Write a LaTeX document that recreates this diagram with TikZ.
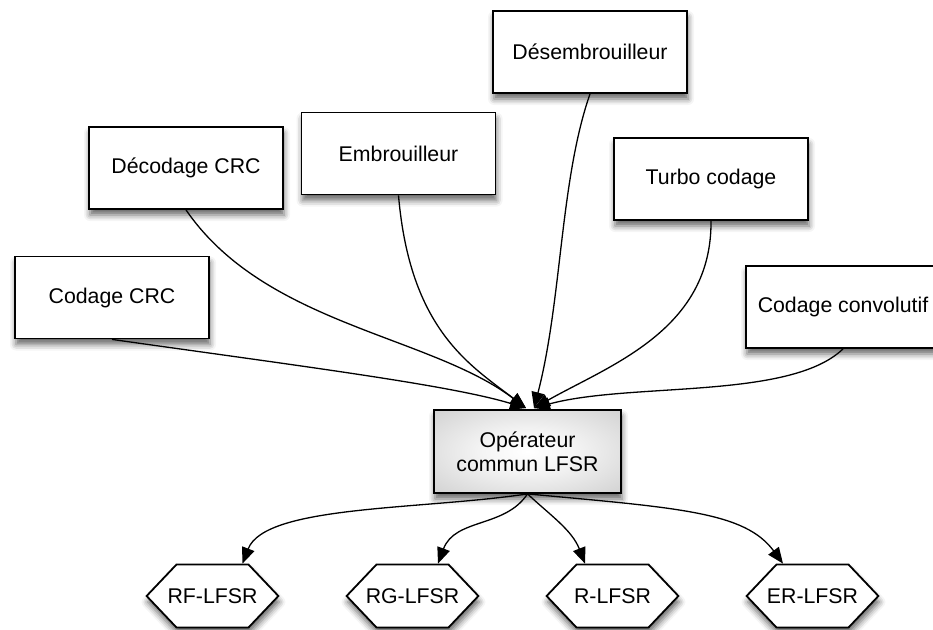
\documentclass[tikz,border=0pt]{standalone}
\usepackage{fontspec}
\setmainfont{Liberation Sans}
\usetikzlibrary{shapes.symbols,arrows.meta,shadows.blur}
\pgfdeclareradialshading{opshade}{\pgfpoint{0bp}{0bp}}{color(0bp)=(white); color(12bp)=(white!96!black); color(50bp)=(white!74!black); color(72bp)=(white!64!black)}
\begin{document}
\begin{tikzpicture}[x=1pt,y=-1pt,
  shad/.style={blur shadow={shadow xshift=1pt, shadow yshift=-6pt, shadow blur radius=6pt, shadow opacity=60}},
  box/.style={draw=black, line width=1.8pt, fill=white, minimum width=194pt, minimum height=82pt, inner sep=0pt, font=\fontsize{21.3}{24}\selectfont, shad},
  opbox/.style={draw=black, line width=1.8pt, shading=opshade, minimum width=187pt, minimum height=83pt, inner sep=0pt, align=center, font=\fontsize{21.3}{24}\selectfont, shad},
  hexa/.style={shape=signal, signal to=west and east, signal pointer angle=93, draw=black, line width=1.8pt, fill=white, inner sep=0pt, text width=72pt, align=center, minimum height=63pt, font=\fontsize{21.3}{24}\selectfont, shad},
  arr/.style={line width=1.3pt, -{Triangle[length=16pt,width=13pt]}}
]
\useasboundingbox (0,0) rectangle (933,629);

\node[box] (crc)   at (112,297.5) {Codage CRC};
\node[box] (dcrc)  at (186,168)   {Décodage CRC};
\node[box] (emb)   at (398.5,153.5) {Embrouilleur};
\node[box] (des)   at (590,52)    {Désembrouilleur};
\node[box] (turbo) at (711,179)   {Turbo codage};
\node[box] (conv)  at (843,307)   {Codage convolutif};

\node[opbox] (op) at (527.5,451.5) {Opérateur\\commun LFSR};

\node[hexa] (rf) at (212.5,596) {\makebox[72pt]{RF-LFSR}};
\node[hexa] (rg) at (412.5,596) {\makebox[72pt]{RG-LFSR}};
\node[hexa] (r)  at (612.5,596) {\makebox[72pt]{R-LFSR}};
\node[hexa] (er) at (812.5,596) {\makebox[72pt]{ER-LFSR}};

% inputs
\draw[arr] (crc.south) .. controls (300,366) and (450,385) .. ([xshift=-1.5pt,yshift=1pt]op.north);
\draw[arr] (dcrc.south) .. controls (265,325) and (430,335) .. ([xshift=-1.5pt,yshift=1pt]op.north);
\draw[arr] (emb.south) .. controls (410,330) and (470,365) .. ([xshift=-1.5pt,yshift=1pt]op.north);
\draw[arr] (des.south) .. controls (560,180) and (562,300) .. ([xshift=6.5pt,yshift=1pt]op.north);
\draw[arr] (turbo.south) .. controls (712,330) and (610,365) .. ([xshift=6.5pt,yshift=1pt]op.north);
\draw[arr] (conv.south) .. controls (790,400) and (630,382) .. ([xshift=6.5pt,yshift=1pt]op.north);

% outputs
\draw[arr] (op.south) .. controls (420,510) and (265,505) .. ([xshift=30pt]rf.north);
\draw[arr] (op.south) .. controls (505,528) and (455,518) .. ([xshift=25.5pt]rg.north);
\draw[arr] (op.south) .. controls (550,515) and (572,530) .. ([xshift=-27.5pt]r.north);
\draw[arr] (op.south) .. controls (680,508) and (745,512) .. ([xshift=-29.5pt]er.north);
\end{tikzpicture}
\end{document}
